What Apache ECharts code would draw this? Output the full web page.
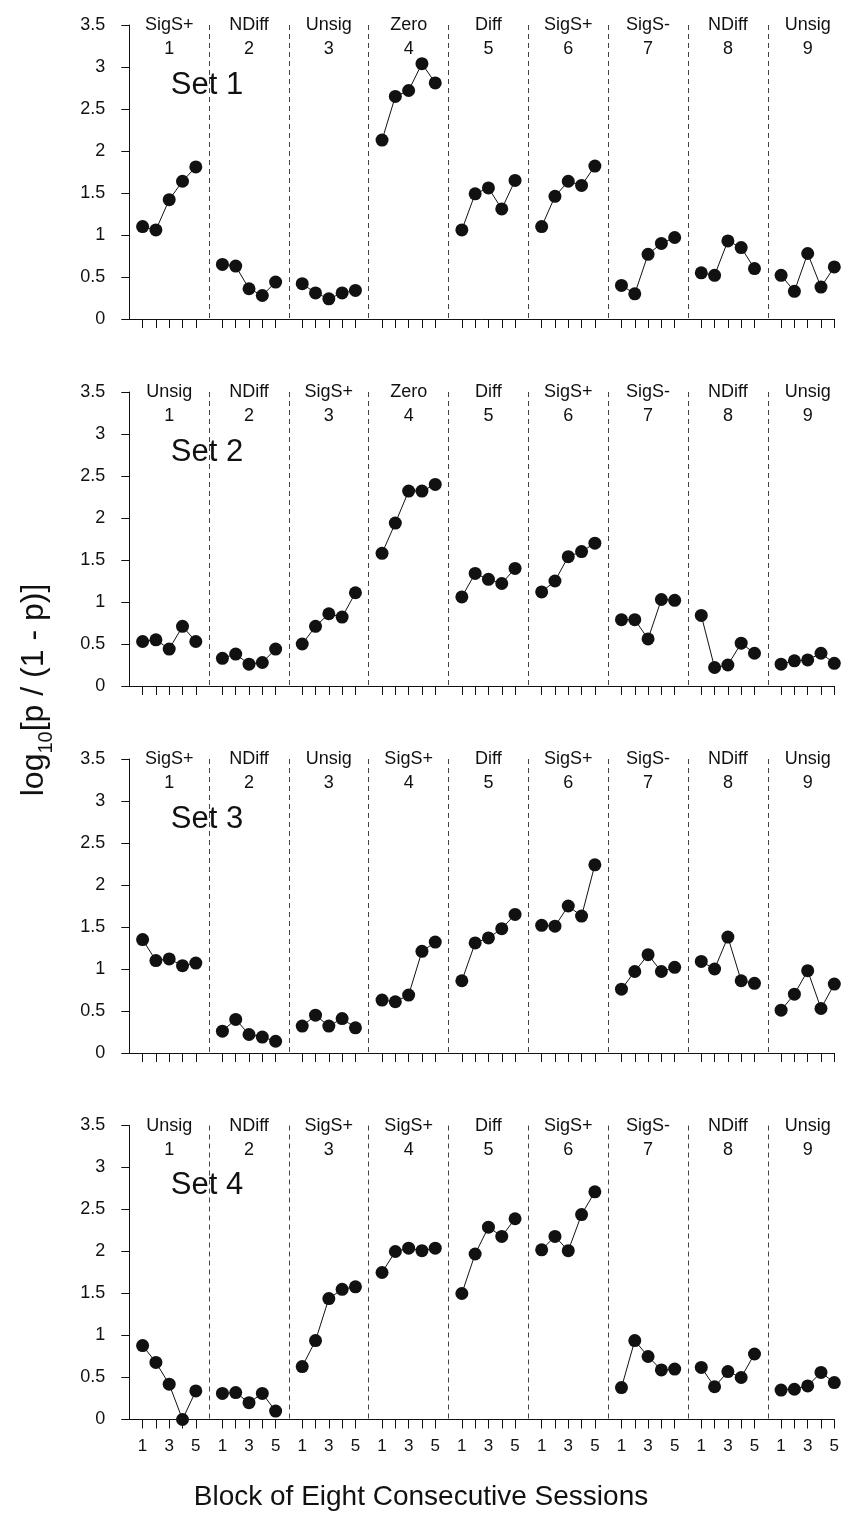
<!DOCTYPE html>
<html>
<head>
<meta charset="utf-8">
<script src="https://cdn.jsdelivr.net/npm/echarts@6/dist/echarts.min.js"></script>
<style>
html,body{margin:0;padding:0;background:#fff;}
#chart{width:851px;height:1516px;}
</style>
</head>
<body>
<div id="chart"></div>
<script>
// ---- data ----
const blockNumbers = ['1','2','3','4','5','6','7','8','9'];
const sessionLabels = ['', '1', '2', '3', '4', '5'];
const yTicks = [0, 0.5, 1, 1.5, 2, 2.5, 3, 3.5];
const setNames = ['Set 1', 'Set 2', 'Set 3', 'Set 4'];

const set1Conditions = ['SigS+','NDiff','Unsig','Zero','Diff','SigS+','SigS-','NDiff','Unsig'];
const set2Conditions = ['Unsig','NDiff','SigS+','Zero','Diff','SigS+','SigS-','NDiff','Unsig'];
const set3Conditions = ['SigS+','NDiff','Unsig','SigS+','Diff','SigS+','SigS-','NDiff','Unsig'];
const set4Conditions = ['Unsig','NDiff','SigS+','SigS+','Diff','SigS+','SigS-','NDiff','Unsig'];

const set1Values = [
  [1.10,1.06,1.42,1.64,1.81],
  [0.65,0.63,0.36,0.28,0.44],
  [0.42,0.31,0.24,0.31,0.34],
  [2.13,2.65,2.72,3.04,2.81],
  [1.06,1.49,1.56,1.31,1.65],
  [1.10,1.46,1.64,1.59,1.82],
  [0.40,0.30,0.77,0.90,0.97],
  [0.55,0.52,0.93,0.85,0.60],
  [0.52,0.33,0.78,0.38,0.62]
];
const set2Values = [
  [0.53,0.55,0.44,0.71,0.53],
  [0.33,0.38,0.26,0.28,0.44],
  [0.50,0.71,0.86,0.82,1.11],
  [1.58,1.94,2.32,2.32,2.40],
  [1.06,1.34,1.27,1.22,1.40],
  [1.12,1.25,1.54,1.60,1.70],
  [0.79,0.79,0.56,1.03,1.02],
  [0.84,0.22,0.25,0.51,0.39],
  [0.26,0.30,0.31,0.39,0.27]
];
const set3Values = [
  [1.35,1.10,1.12,1.04,1.07],
  [0.26,0.40,0.22,0.19,0.14],
  [0.32,0.45,0.32,0.41,0.30],
  [0.63,0.61,0.69,1.21,1.32],
  [0.86,1.31,1.37,1.48,1.65],
  [1.52,1.51,1.75,1.63,2.24],
  [0.76,0.97,1.17,0.97,1.02],
  [1.09,1.00,1.38,0.86,0.83],
  [0.51,0.70,0.98,0.53,0.82]
];
const set4Values = [
  [0.88,0.68,0.42,0.00,0.34],
  [0.31,0.32,0.20,0.31,0.10],
  [0.63,0.94,1.44,1.55,1.58],
  [1.75,2.00,2.04,2.01,2.04],
  [1.50,1.97,2.29,2.18,2.39],
  [2.02,2.18,2.01,2.44,2.71],
  [0.38,0.94,0.75,0.59,0.60],
  [0.62,0.39,0.57,0.50,0.78],
  [0.35,0.36,0.40,0.56,0.44]
];

const xTitle = 'Block of Eight Consecutive Sessions';

// ---- build ----
const FONT = '"Liberation Sans", Arial, Helvetica, sans-serif';
const allConditions = [set1Conditions, set2Conditions, set3Conditions, set4Conditions];
const allValues = [set1Values, set2Values, set3Values, set4Values];

// category positions: 9 blocks x 6 slots (slot 0 = divider)
const categories = [];
blockNumbers.forEach(() => sessionLabels.forEach(s => categories.push(s)));

const gridTops = [25, 392, 759, 1125.5];
const gridH = 294;
const gridLeft = 129.3;
const gridW = 705;

const grids = [], xAxes = [], yAxes = [], series = [], graphics = [];

gridTops.forEach((top, g) => {
  grids.push({left: gridLeft, top: top, width: gridW, height: gridH, containLabel: false});
  const isBottom = g === 3;
  xAxes.push({
    type: 'category', gridIndex: g, data: categories, boundaryGap: false,
    axisLine: {show: true, lineStyle: {color: '#111', width: 1}},
    axisTick: {show: true, length: 9, inside: false, lineStyle: {color: '#111', width: 1},
      interval: (i) => i % 6 !== 0},
    axisLabel: {show: isBottom, margin: 18, fontSize: 17, color: '#111', fontFamily: FONT,
      interval: (i) => (i % 6 === 1 || i % 6 === 3 || i % 6 === 5)},
    splitLine: {show: true, interval: (i) => i % 6 === 0 && i !== 0,
      lineStyle: {color: '#444', width: 1, type: [5, 4]}}
  });
  yAxes.push({
    type: 'value', gridIndex: g, min: 0, max: 3.5, interval: 0.5,
    axisLine: {show: true, lineStyle: {color: '#111', width: 1}},
    axisTick: {show: true, length: 8, inside: false, lineStyle: {color: '#111'}},
    axisLabel: {show: true, margin: 24, fontSize: 18, color: '#111', fontFamily: FONT,
      formatter: (v) => String(v)},
    splitLine: {show: false}
  });

  // line data indexed by category slot
  const lineData = [];
  allValues[g].forEach(block => {
    lineData.push('-');
    block.forEach(v => lineData.push(v));
  });
  series.push({
    type: 'line', xAxisIndex: g, yAxisIndex: g, data: lineData,
    connectNulls: false, clip: false,
    symbol: 'circle', symbolSize: 13, showSymbol: true, showAllSymbol: true,
    itemStyle: {color: '#111', opacity: 1},
    lineStyle: {color: '#111', width: 1},
    emphasis: {disabled: true}, animation: false
  });

  // block header labels
  const headerData = allConditions[g].map((c, b) => ({
    value: [b * 6 + 3, 3.5], name: c + '\n' + blockNumbers[b]
  }));
  series.push({
    type: 'scatter', xAxisIndex: g, yAxisIndex: g, data: headerData,
    symbolSize: 1, clip: false, silent: true,
    itemStyle: {opacity: 0},
    label: {show: true, position: 'bottom', distance: -12,
      formatter: (p) => p.name, fontSize: 18, lineHeight: 24, color: '#111',
      fontFamily: FONT, textBorderWidth: 0, opacity: 1},
    emphasis: {disabled: true},
    animation: false
  });

  graphics.push({
    type: 'text', x: 207, y: top + 60,
    style: {text: setNames[g], font: '31px ' + FONT, fill: '#111', align: 'center', verticalAlign: 'middle'}
  });
});

graphics.push({
  type: 'text', x: 421, y: 1497,
  style: {text: xTitle, font: '28px ' + FONT, fill: '#111', align: 'center', verticalAlign: 'middle'}
});
graphics.push({
  type: 'text', x: 34, y: 690, rotation: Math.PI / 2,
  style: {
    text: '{a|log}{b|10}{a|[p / (1 - p)]}',
    align: 'center', verticalAlign: 'middle', fill: '#111',
    rich: {
      a: {fontSize: 32, fontFamily: FONT, fill: '#111', lineHeight: 44, verticalAlign: 'middle'},
      b: {fontSize: 20, fontFamily: FONT, fill: '#111', lineHeight: 44, verticalAlign: 'bottom'}
    }
  }
});

const chart = echarts.init(document.getElementById('chart'), null, {renderer: 'canvas'});
chart.setOption({
  animation: false,
  backgroundColor: '#fff',
  textStyle: {fontFamily: FONT},
  grid: grids, xAxis: xAxes, yAxis: yAxes, series: series, graphic: graphics
});
</script>
</body>
</html>
